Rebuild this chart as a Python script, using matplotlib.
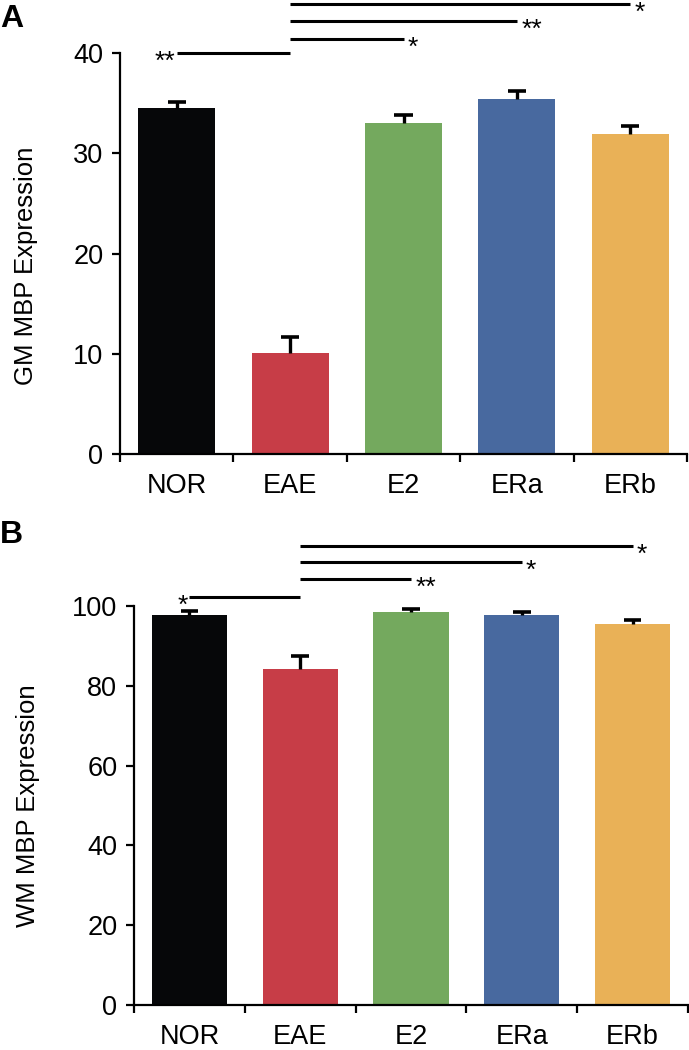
import numpy as np
import matplotlib
matplotlib.use('Agg')
import matplotlib.pyplot as plt

plt.rcParams['font.family'] = ['Liberation Sans', 'DejaVu Sans']

# Dados
grupos = ['NOR', 'EAE', 'E2', 'ERa', 'ERb']
cores = ['#060709', '#c73d47', '#74a95e', '#48699f', '#e9b157']

gm_media = [34.5, 10.1, 33.0, 35.4, 31.9]
gm_erro = [0.6, 1.6, 0.8, 0.8, 0.8]

wm_media = [97.7, 84.3, 98.6, 97.7, 95.5]
wm_erro = [1.0, 3.2, 0.7, 0.9, 0.9]

# comparações: (grupo inicial, grupo final, altura, texto)
gm_sig = [(0, 1, 40.0, '**'), (1, 2, 41.4, '*'), (1, 3, 43.2, '**'), (1, 4, 44.9, '*')]
wm_sig = [(0, 1, 102.3, '*'), (1, 2, 106.7, '**'), (1, 3, 111.1, '*'), (1, 4, 115.0, '*')]


def painel(ax, media, erro, sig, ymax, passo, ylabel, label_y, label_x):
    x = np.arange(len(grupos))
    media = np.array(media)
    erro = np.array(erro)
    ax.bar(x, media, width=0.68, color=cores, zorder=2)
    # só a metade de cima da barra de erro (forma de T)
    ax.vlines(x, media, media + erro, color='black', lw=2.4, zorder=3)
    ax.hlines(media + erro, x - 0.08, x + 0.08, color='black', lw=2.6, zorder=3)

    ax.set_xlim(-0.5, len(grupos) - 0.5)
    ax.set_ylim(0, ymax)
    ax.set_yticks(np.arange(0, ymax + 1, passo))
    ax.set_xticks(np.arange(-0.5, len(grupos)))
    ax.set_xticklabels([])
    ax.set_xticks(x, minor=True)
    ax.set_xticklabels(grupos, minor=True)

    for s in ['top', 'right']:
        ax.spines[s].set_visible(False)
    for s in ['left', 'bottom']:
        ax.spines[s].set_linewidth(1.6)

    ax.tick_params(axis='both', which='major', direction='out', length=6, width=1.6,
                   labelsize=19.5, pad=6)
    ax.tick_params(axis='x', which='minor', length=0, labelsize=19.5, pad=14)
    ax.set_ylabel(ylabel, fontsize=18.5)
    ax.yaxis.set_label_coords(label_x, label_y)

    # barras de significância
    for i0, i1, h, txt in sig:
        ax.plot([i0, i1], [h, h], color='black', lw=2.2, clip_on=False,
                solid_capstyle='butt', zorder=4)
        if i0 == 0:
            ax.annotate(txt, (i0, h), xytext=(-1, -11.5), textcoords='offset points',
                        ha='right', va='baseline', fontsize=19, annotation_clip=False)
        else:
            ax.annotate(txt, (i1, h), xytext=(3, -11.5), textcoords='offset points',
                        ha='left', va='baseline', fontsize=19, annotation_clip=False)


fig = plt.figure(figsize=(6.89, 10.5), dpi=100)
ax1 = fig.add_axes([0.1742, 0.5676, 0.8229, 0.3819])
ax2 = fig.add_axes([0.1945, 0.0429, 0.8040, 0.3800])

painel(ax1, gm_media, gm_erro, gm_sig, 40, 10, 'GM MBP Expression', 0.47, -0.145)
painel(ax2, wm_media, wm_erro, wm_sig, 100, 20, 'WM MBP Expression', 0.5, -0.17)

fig.text(0.0, 1 - 27 / 1050, 'A', fontsize=23, fontweight='bold', va='baseline')
fig.text(0.0, 1 - 543 / 1050, 'B', fontsize=23, fontweight='bold', va='baseline')

fig.savefig('out.png', dpi=100)
